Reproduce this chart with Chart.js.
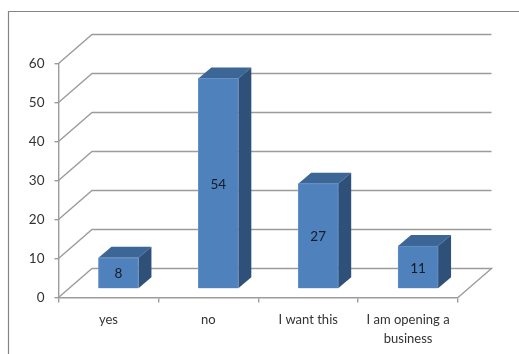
<!DOCTYPE html>
<html>
<head>
<meta charset="utf-8">
<style>
  body { margin: 0; background: #fff; }
  canvas { display: block; filter: blur(0.45px); }
</style>
<script src="https://cdn.jsdelivr.net/npm/chart.js@4"></script>
</head>
<body>
<canvas id="chart" width="519" height="354"></canvas>
<script>
const categories = ['yes', 'no', 'I want this', ['I am opening a', 'business']];
const answers = [8, 54, 27, 11];
const yTicks = [0, 10, 20, 30, 40, 50, 60];

const FONT = 'Lato, "Open Sans", sans-serif';
const LINE = '#9c9c9c';
const TEXT = '#333333';
const WALL_DX = 33.5, WALL_DY = 29;   // how far the back wall sits behind the axes
const BAR_DX = 13, BAR_DY = 11;       // depth of each bar
const BAR_SHIFT_X = 10, BAR_SHIFT_Y = 8.5;

// frame, back wall and floor, behind everything
const wallPlugin = {
    id: 'wall',
    beforeDatasetsDraw(chart) {
        const { ctx, scales, chartArea } = chart;
        ctx.save();
        ctx.strokeStyle = '#858585';
        ctx.lineWidth = 1.2;
        ctx.beginPath();
        ctx.moveTo(8.5, 354);
        ctx.lineTo(8.5, 11.5);
        ctx.lineTo(519, 11.5);
        ctx.stroke();

        ctx.strokeStyle = LINE;
        ctx.lineWidth = 1.4;
        yTicks.forEach(v => {
            const y = scales.y.getPixelForValue(v);
            ctx.beginPath();
            ctx.moveTo(chartArea.left, y);
            ctx.lineTo(chartArea.left + WALL_DX, y - WALL_DY);
            ctx.lineTo(chartArea.right + WALL_DX, y - WALL_DY);
            if (v === 0) ctx.lineTo(chartArea.right, y);
            ctx.stroke();
        });
        ctx.restore();
    }
};

// bars sit a little in from the axes, so shift them and add the 3d faces
const barPlugin = {
    id: 'bar3d',
    beforeDatasetDraw(chart) {
        const { ctx } = chart;
        ctx.save();
        ctx.translate(BAR_SHIFT_X, BAR_SHIFT_Y * -1);
        chart.getDatasetMeta(0).data.forEach(bar => {
            const left = bar.x - bar.width / 2;
            const right = bar.x + bar.width / 2;
            ctx.fillStyle = '#3c6695';
            ctx.beginPath();
            ctx.moveTo(left, bar.y);
            ctx.lineTo(left + BAR_DX, bar.y - BAR_DY);
            ctx.lineTo(right + BAR_DX, bar.y - BAR_DY);
            ctx.lineTo(right, bar.y);
            ctx.closePath();
            ctx.fill();
            ctx.fillStyle = '#2f5179';
            ctx.beginPath();
            ctx.moveTo(right, bar.y);
            ctx.lineTo(right + BAR_DX, bar.y - BAR_DY);
            ctx.lineTo(right + BAR_DX, bar.base - BAR_DY);
            ctx.lineTo(right, bar.base);
            ctx.closePath();
            ctx.fill();
        });
    },
    afterDatasetDraw(chart) {
        const { ctx } = chart;
        ctx.fillStyle = '#141c28';
        ctx.font = '13.5px ' + FONT;
        ctx.textAlign = 'center';
        ctx.textBaseline = 'middle';
        chart.getDatasetMeta(0).data.forEach((bar, i) => {
            ctx.fillText(answers[i], bar.x, (bar.y + bar.base) / 2 + 1);
        });
        ctx.restore();
    }
};

new Chart(document.getElementById('chart').getContext('2d'), {
    type: 'bar',
    data: {
        labels: categories,
        datasets: [{
            data: answers,
            backgroundColor: '#4f81bd',
            borderColor: '#6590c5',
            borderWidth: 1,
            barThickness: 40,
            clip: false
        }]
    },
    options: {
        responsive: false,
        animation: false,
        layout: { padding: { top: 63.5, right: 61, bottom: 0, left: 0 } },
        plugins: { legend: { display: false }, tooltip: { enabled: false } },
        scales: {
            x: {
                afterFit(scale) { scale.height = 56.5; },
                border: { color: LINE, width: 1.4 },
                grid: { drawOnChartArea: false, color: LINE, lineWidth: 1.4, tickLength: 5 },
                ticks: {
                    color: TEXT,
                    font: { family: FONT, size: 13, lineHeight: 1.45 },
                    padding: 8,
                    maxRotation: 0,
                    autoSkip: false
                }
            },
            y: {
                min: 0,
                max: 60,
                afterFit(scale) { scale.width = 58.5; },
                border: { color: LINE, width: 1.4 },
                grid: { drawOnChartArea: false, color: LINE, lineWidth: 1.4, tickLength: 4 },
                ticks: {
                    stepSize: 10,
                    color: TEXT,
                    font: { family: FONT, size: 13.5 },
                    padding: 10
                }
            }
        }
    },
    plugins: [wallPlugin, barPlugin]
});
</script>
</body>
</html>
